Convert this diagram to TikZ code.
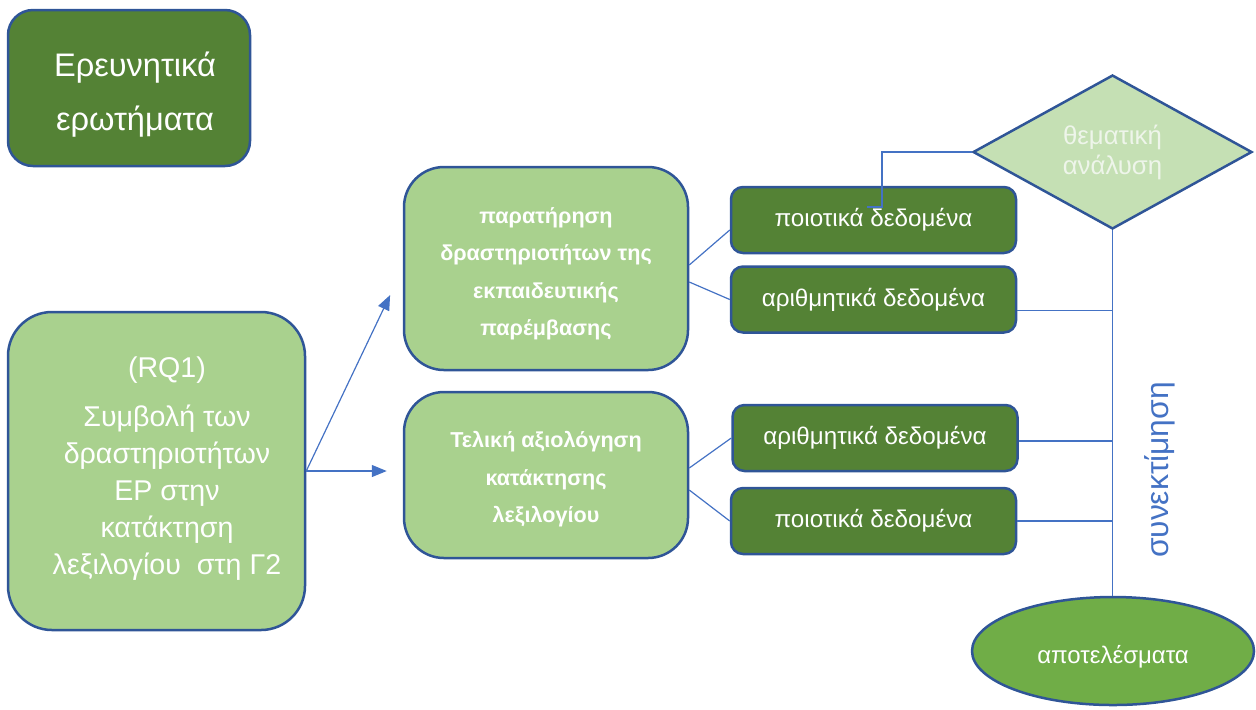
\documentclass[tikz,border=0pt]{standalone}
\usepackage{fontspec}
\setmainfont{Liberation Sans}
\usetikzlibrary{shapes.geometric,arrows.meta,calc}
\definecolor{darkgr}{HTML}{548235}
\definecolor{lightgr}{HTML}{A9D18E}
\definecolor{palegr}{HTML}{C5E0B4}
\definecolor{midgr}{HTML}{70AD47}
\definecolor{edgeblue}{HTML}{2F5597}
\definecolor{linkblue}{HTML}{4472C4}
\definecolor{softwhite}{HTML}{EEF5EA}
\tikzset{
  shapebase/.style={draw=edgeblue, line width=1.25pt, text=white, align=center, inner sep=0pt},
  darkbox/.style={shapebase, fill=darkgr, rounded corners=6pt,
    minimum width=142.5pt, minimum height=33pt, font=\fontsize{12.1}{14}\selectfont},
  midbox/.style={shapebase, fill=lightgr, rounded corners=20pt, minimum width=142pt,
    font=\fontsize{10.8}{18.75}\selectfont\bfseries},
  link/.style={draw=linkblue, line width=0.6pt},
  arrowlink/.style={link, -{Triangle[length=7.5pt,width=6pt]}}
}
\begin{document}
\begin{tikzpicture}[x=0.5pt,y=-0.5pt]
\useasboundingbox (0,0) rectangle (1256,709);

% heading box
\node[shapebase, fill=darkgr, rounded corners=12.5pt, minimum width=121pt, minimum height=78pt,
  text height=45.5pt, font=\fontsize{16.3}{27}\selectfont] (head) at (129,88)
  {\hspace*{6pt}Ερευνητικά\\\hspace*{6pt}ερωτήματα};

% research question
\node[shapebase, fill=lightgr, rounded corners=22pt, minimum width=148.5pt, minimum height=159pt] (rq) at (156.5,471) {};
\node[text=white, align=center, font=\fontsize{14.3}{18.5}\selectfont] (rqtext) at (167,469)
  {(RQ1)\\[6pt]Συμβολή των\\δραστηριοτήτων\\ΕΡ στην\\κατάκτηση\\λεξιλογίου\ \ στη Γ2};

% data collection methods
\node[midbox, minimum height=101.5pt, text height=69.3pt] (obs) at (546,268.5)
  {παρατήρηση\\δραστηριοτήτων της\\εκπαιδευτικής\\παρέμβασης};
\node[midbox, minimum height=83pt, text height=49.8pt] (eval) at (546,475)
  {Τελική αξιολόγηση\\κατάκτησης\\λεξιλογίου};

% data types
\node[darkbox] (q1) at (873.5,220) {ποιοτικά δεδομένα};
\node[darkbox] (a1) at (873.5,299.5) {αριθμητικά δεδομένα};
\node[darkbox] (a2) at (875,438) {αριθμητικά δεδομένα};
\node[darkbox] (q2) at (873.5,521) {ποιοτικά δεδομένα};

% analysis and results
\node[shapebase, diamond, fill=palegr, aspect=1.81, minimum width=139.5pt, minimum height=77pt,
  text=softwhite, font=\fontsize{12.9}{15}\selectfont] (dia) at (1112.5,152) {θεματική\\ανάλυση};
\node[shapebase, ellipse, fill=midgr, minimum width=141pt, minimum height=54pt,
  text height=15pt, font=\fontsize{12}{14}\selectfont] (res) at (1113,651) {αποτελέσματα};

\node[rotate=90, text=linkblue, font=\fontsize{15.9}{18}\selectfont] (comb) at (1160,470) {συνεκτίμηση};

% arrows from the research question
\draw[arrowlink, shorten >=14.7pt] (rq.east) -- (obs.west);
\draw[arrowlink, shorten >=8pt] (rq.east) -- (rq.east -| eval.west);

% method to data links
\draw[link] ($(obs.east)+(0,-3.5)$) -- ($(q1.west)+(0,10)$);
\draw[link] ($(obs.east)+(0,13.5)$) -- (a1.west);
\draw[link] ($(eval.east)+(0,-7)$) -- (a2.west);
\draw[link] ($(eval.east)+(0,15)$) -- (q2.west);

% trunk from analysis to results
\coordinate (trunk) at (dia.south);
\draw[link] (dia.south) -- (dia.south |- res.north);
\draw[link] ($(a1.east)+(0,11)$) -- (trunk |- {$(a1.east)+(0,11)$});
\draw[link] ($(a2.east)+(0,3)$) -- (trunk |- {$(a2.east)+(0,3)$});
\draw[link] (q2.east) -- (trunk |- q2.east);

% qualitative data to thematic analysis
\coordinate (qin) at (867,207);
\draw[link] (dia.west) -| ($(qin)+(15,0)$) -- (qin);
\end{tikzpicture}
\end{document}
